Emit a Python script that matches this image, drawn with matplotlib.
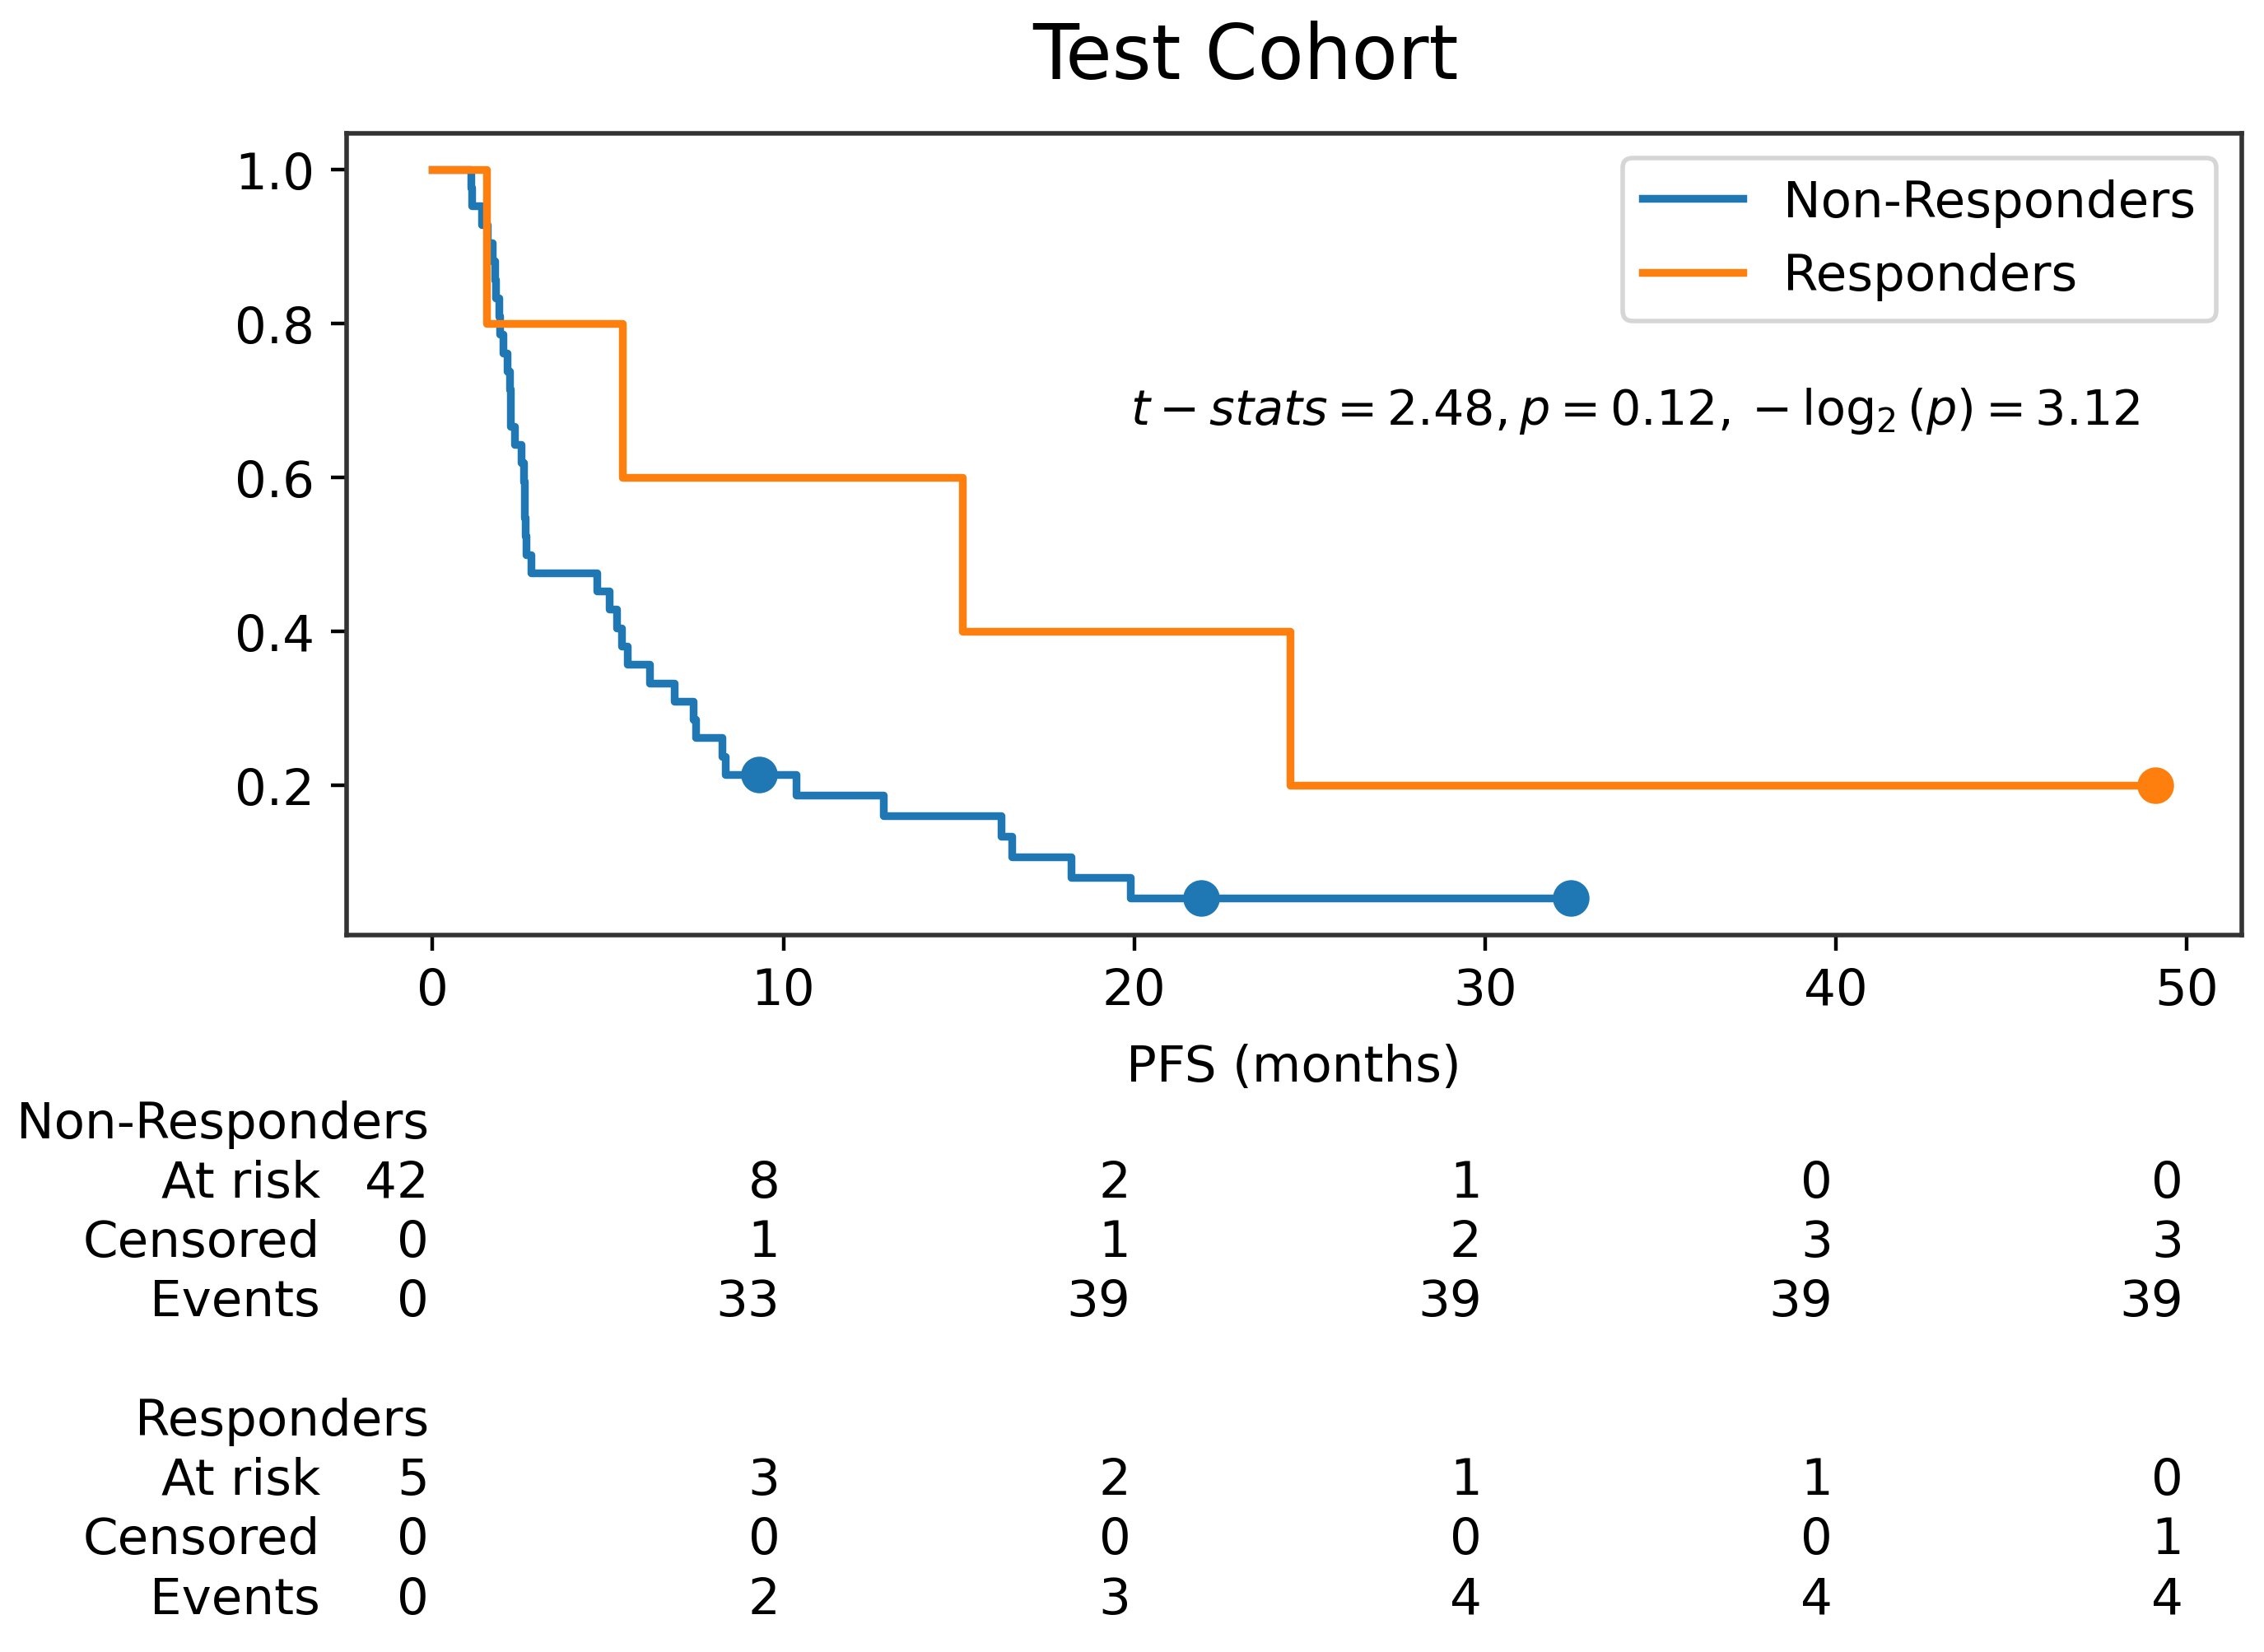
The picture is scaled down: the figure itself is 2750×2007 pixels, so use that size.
import numpy as np
import matplotlib
matplotlib.use("Agg")
import matplotlib.pyplot as plt
from matplotlib.transforms import blended_transform_factory

# PFS event / censoring times (months)
nonresp_event_times = [1.10, 1.12, 1.41, 1.57, 1.70, 1.77, 1.79, 1.90, 1.92, 2.02,
                       2.13, 2.20, 2.21, 2.22, 2.33, 2.53, 2.60, 2.62, 2.63, 2.65,
                       2.66, 2.80, 4.69, 5.04, 5.24, 5.39, 5.55, 6.18, 6.88, 7.43,
                       7.50, 8.26, 8.35, 10.36, 12.84, 16.2, 16.5, 18.2, 19.9]
nonresp_censor_times = [9.3, 21.9, 32.45]
resp_event_times = [1.55, 5.4, 15.1, 24.45]
resp_censor_times = [49.1]

groups = ["Non-Responders", "Responders"]
colors = ["#1f77b4", "#ff7f0e"]

# at-risk table
table_times = [0, 10, 20, 30, 40, 50]
table_rows = ["At risk", "Censored", "Events"]
nonresp_at_risk = [42, 8, 2, 1, 0, 0]
nonresp_censored = [0, 1, 1, 2, 3, 3]
nonresp_events = [0, 33, 39, 39, 39, 39]
resp_at_risk = [5, 3, 2, 1, 1, 0]
resp_censored = [0, 0, 0, 0, 0, 1]
resp_events = [0, 2, 3, 4, 4, 4]

stat_text = r"$t-stats=2.48,p=0.12,-\log_2{(p)}=3.12$"

plt.rcParams["font.size"] = 11


def km(event_times, censor_times):
    """Kaplan-Meier estimate; returns step points and censor-mark values."""
    t = np.array(list(event_times) + list(censor_times), dtype=float)
    e = np.array([1] * len(event_times) + [0] * len(censor_times))
    order = np.argsort(t, kind="stable")
    t, e = t[order], e[order]
    xs, ys = [0.0], [1.0]
    s = 1.0
    n = len(t)
    cens_x, cens_y = [], []
    for i, (ti, ei) in enumerate(zip(t, e)):
        at_risk = n - i
        if ei:
            s *= (at_risk - 1) / at_risk
            xs.append(ti)
            ys.append(s)
        else:
            cens_x.append(ti)
            cens_y.append(s)
    xs.append(t.max())
    ys.append(s)
    return np.array(xs), np.array(ys), cens_x, cens_y


fig = plt.figure(figsize=(6.875, 5.02), dpi=400)
ax = fig.add_axes([0.153, 0.434, 0.837, 0.485])

curves = [km(nonresp_event_times, nonresp_censor_times),
          km(resp_event_times, resp_censor_times)]
for (xs, ys, cx, cy), name, col in zip(curves, groups, colors):
    ax.plot(xs, ys, drawstyle="steps-post", color=col, lw=1.7, label=name)
    ax.plot(cx, cy, ls="none", marker="o", ms=7, color=col)

for sp in ax.spines.values():
    sp.set_color("#333333")
    sp.set_linewidth(1.0)

ax.set_xlabel("PFS (months)", labelpad=6)
ax.legend(loc="upper right")
ax.text(19.9, 0.687, stat_text, va="center", ha="left", fontsize=10.6)

fig.text(0.55, 0.952, "Test Cohort", ha="center", va="baseline", fontsize=16.5)

# at-risk counts below the axis
trans = blended_transform_factory(ax.transData, fig.transFigure)
y0 = 1 - 779 / 1145
dy = 41.2 / 1145
blocks = [
    (groups[0], [nonresp_at_risk, nonresp_censored, nonresp_events]),
    (groups[1], [resp_at_risk, resp_censored, resp_events]),
]
for b, (name, rows) in enumerate(blocks):
    yb = y0 - b * 5 * dy
    ax.text(-0.1, yb, name, transform=trans, ha="right", va="center",
            clip_on=False)
    for r, (lab, vals) in enumerate(zip(table_rows, rows)):
        yr = yb - (r + 1) * dy
        ax.text(-3.2, yr, lab, transform=trans, ha="right", va="center",
                clip_on=False)
        for tt, v in zip(table_times, vals):
            ax.text(tt - 0.1, yr, str(v), transform=trans, ha="right",
                    va="center", clip_on=False)

fig.savefig("out.png", dpi=400)
